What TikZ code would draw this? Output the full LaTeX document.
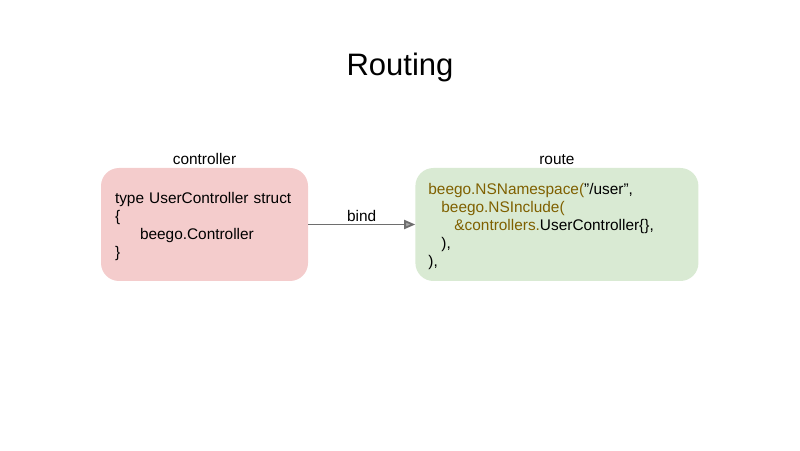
\documentclass[tikz,border=0pt]{standalone}
\usepackage{fontspec}
\setmainfont{Liberation Sans}
\usepackage{tikz}
\usetikzlibrary{arrows.meta,positioning}
\usepackage{xcolor}
\definecolor{cCtrl}{RGB}{244,204,204}
\definecolor{cRoute}{RGB}{217,234,211}
\definecolor{cPkg}{RGB}{127,96,0}
\definecolor{cLink}{RGB}{110,110,110}
\newcommand{\pkg}[1]{\textcolor{cPkg}{#1}}
\newcommand{\topgap}{\rule{0pt}{15.5pt}}

\begin{document}
\begin{tikzpicture}[
  x=1pt, y=1pt,
  font=\fontsize{15.4}{18}\selectfont,
  node distance=107pt,
  box/.style={rectangle, rounded corners=18pt, align=left, inner xsep=14pt,
    inner ysep=0pt, minimum height=113pt},
  boxlabel/.style={inner sep=1pt},
  ar/.style={-{Triangle[length=11pt,width=9pt,fill=black!35]}, line width=1.8pt, draw=cLink}]
\useasboundingbox (0,0) rectangle (800,450);
\node[font=\fontsize{31}{36}\selectfont] (title) at (400,383) {Routing};
\node[box, fill=cCtrl, text width=179pt] (ctrl) at (204.5,225.5)
  {\topgap type UserController struct\\\{\\\hspace*{25pt}beego.Controller\\\}};
\node[box, fill=cRoute, text width=257pt, inner xsep=13pt, right=of ctrl] (route)
  {\topgap\pkg{beego.NSNamespace(}"/user",\\
   \hspace*{13pt}\pkg{beego.NSInclude(}\\
   \hspace*{26pt}\pkg{\&controllers.}UserController\{\},\\
   \hspace*{13pt}),\\
   ),};
\node[boxlabel, above=2pt of ctrl] (ctrllabel) {controller};
\node[boxlabel, above=2pt of route] (routelabel) {route};
\draw[ar] (ctrl) -- node[above, inner sep=2pt] (bind) {bind} (route);
\end{tikzpicture}
\end{document}
